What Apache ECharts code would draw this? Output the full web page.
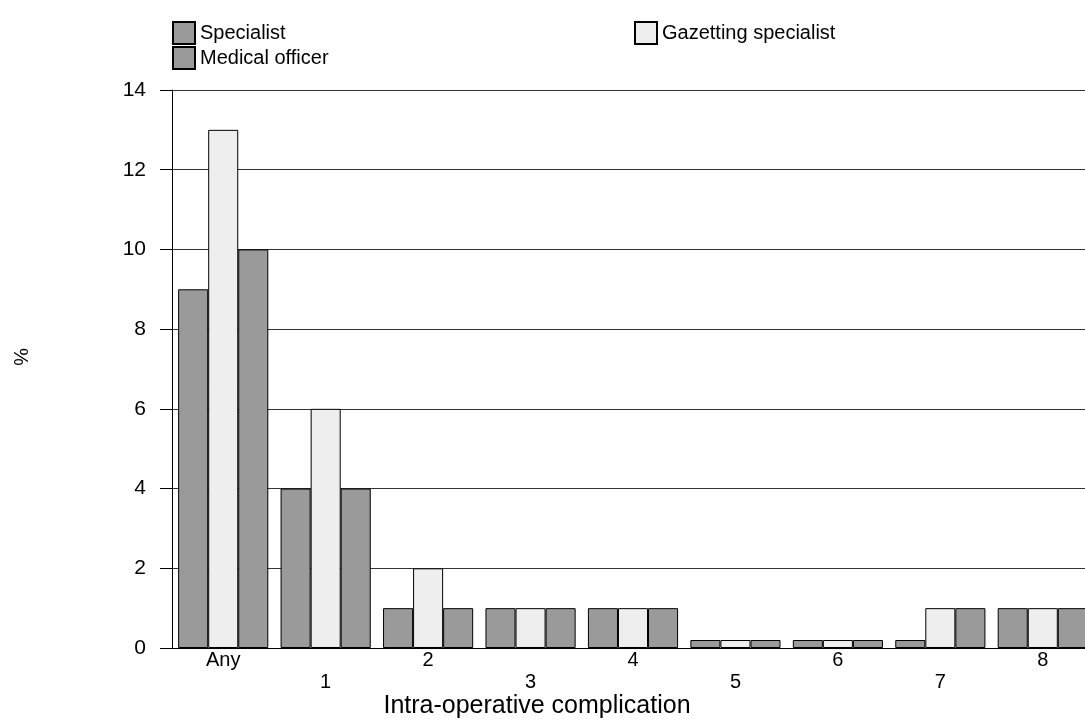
<!DOCTYPE html>
<html>
<head>
<meta charset="utf-8">
<script src="https://cdn.jsdelivr.net/npm/echarts@6/dist/echarts.min.js"></script>
<style>html,body{margin:0;padding:0;background:#fff}#c{width:1085px;height:726px}</style>
</head>
<body>
<div id="c"></div>
<script>
const categories = ['Any', '1', '2', '3', '4', '5', '6', '7', '8'];
const specialist = [9, 4, 1, 1, 1, 0.2, 0.2, 0.2, 1];
const gazetting = [13, 6, 2, 1, 1, 0.2, 0.2, 1, 1];
const medicalOfficer = [10, 4, 1, 1, 1, 0.2, 0.2, 1, 1];
const yTicks = [0, 2, 4, 6, 8, 10, 12, 14];

const FONT = '"Liberation Sans", Arial, sans-serif';
const dark = '#9a9a9a';
const light = '#eeeeee';

const chart = echarts.init(document.getElementById('c'), null, {renderer: 'canvas'});
const barStyle = c => ({color: c, borderColor: '#000', borderWidth: 1});
const legendCommon = {
  orient: 'vertical', itemGap: 1, icon: 'rect',
  itemWidth: 22, itemHeight: 22, padding: 0,
  textStyle: {fontFamily: FONT, fontSize: 20, color: '#000'}
};
chart.setOption({
  animation: false,
  backgroundColor: '#fff',
  textStyle: {fontFamily: FONT, color: '#000'},
  grid: {left: 172, width: 922, top: 90, height: 558, containLabel: false, outerBoundsMode: 'none'},
  legend: [
    Object.assign({data: ['Specialist', 'Medical officer'], left: 172, top: 21}, legendCommon),
    Object.assign({data: ['Gazetting specialist'], left: 634, top: 21}, legendCommon)
  ],
  xAxis: {
    type: 'category',
    data: categories,
    axisLine: {lineStyle: {color: '#000', width: 1}},
    axisTick: {show: false},
    axisLabel: {
      interval: 0, margin: 1, fontSize: 20, color: '#000', fontFamily: FONT, lineHeight: 22,
      formatter: (v, i) => (i % 2 === 1 ? '\n' + v : v)
    }
  },
  yAxis: {
    type: 'value',
    min: yTicks[0], max: yTicks[yTicks.length - 1], interval: 2,
    axisLine: {show: true, lineStyle: {color: '#000', width: 1}},
    axisTick: {show: true, inside: false, length: 12, lineStyle: {color: '#000'}},
    axisLabel: {margin: 26, fontSize: 21, color: '#000', fontFamily: FONT},
    splitLine: {show: true, lineStyle: {color: '#333', width: 1}}
  },
  series: [
    {name: 'Specialist', type: 'bar', data: specialist, itemStyle: barStyle(dark), barGap: '0%', barCategoryGap: '12%'},
    {name: 'Gazetting specialist', type: 'bar', data: gazetting, itemStyle: barStyle(light), barGap: '0%', barCategoryGap: '12%'},
    {name: 'Medical officer', type: 'bar', data: medicalOfficer, itemStyle: barStyle(dark), barGap: '0%', barCategoryGap: '12%'}
  ],
  graphic: [
    {type: 'text', x: 20, y: 357, rotation: -Math.PI / 2,
     style: {text: '%', fontFamily: FONT, fontSize: 20, fill: '#000', align: 'center', verticalAlign: 'middle'}},
    {type: 'text', x: 537, y: 706,
     style: {text: 'Intra-operative complication', fontFamily: FONT, fontSize: 25, fill: '#000', align: 'center', verticalAlign: 'middle'}}
  ]
});
</script>
</body>
</html>
